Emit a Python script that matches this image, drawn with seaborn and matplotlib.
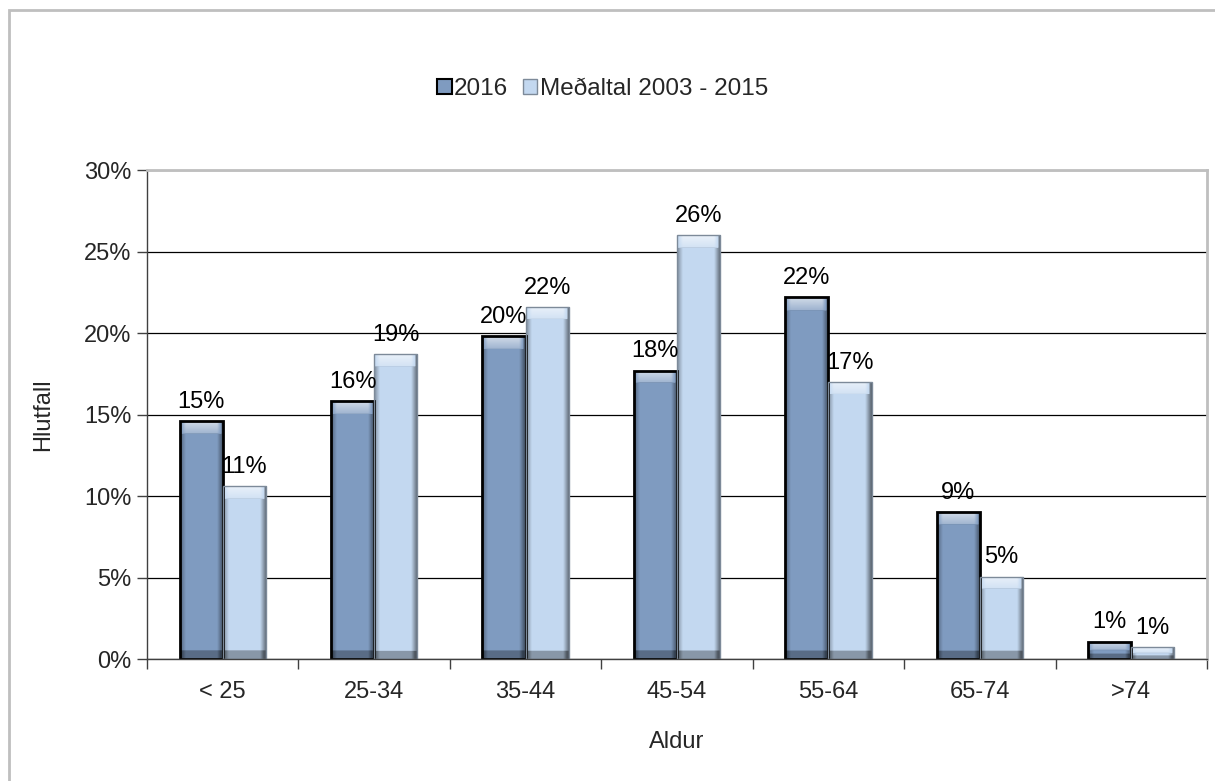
import numpy as np
import pandas as pd
import seaborn as sns
import matplotlib.pyplot as plt
from matplotlib.patches import Rectangle
from matplotlib.ticker import MultipleLocator, PercentFormatter

# Data (percent of total)
age_groups = ["< 25", "25-34", "35-44", "45-54", "55-64", "65-74", ">74"]
share_2016 = [14.6, 15.8, 19.8, 17.7, 22.2, 9.0, 1.06]
share_avg = [10.6, 18.7, 21.6, 26.0, 17.0, 5.05, 0.72]
series_names = ["2016", "Meðaltal 2003 - 2015"]

df = pd.DataFrame({
    "Aldur": age_groups * 2,
    "Hlutfall": share_2016 + share_avg,
    "Series": [series_names[0]] * len(age_groups) + [series_names[1]] * len(age_groups),
})

sns.set_theme(style="white")
plt.rcParams["font.family"] = ["Liberation Sans", "DejaVu Sans"]

dark_blue = "#7F9BC0"
light_blue = "#C3D8F0"
edge_colors = ["black", "#7D8A99"]
edge_widths = [2, 1]
fs = 17

fig = plt.figure(figsize=(12.15, 7.81), dpi=100)
ax = fig.add_axes([0.121, 0.1562, 0.8724, 0.6261])

sns.barplot(
    data=df, x="Aldur", y="Hlutfall", hue="Series",
    order=age_groups, hue_order=series_names,
    palette=[dark_blue, light_blue], width=0.57, saturation=1,
    legend=False, ax=ax,
)

# soft bevel shading over each bar (Excel-style look), then the outline on top
nx = 80
tx = np.linspace(0, 1, nx)[None, :]
side = np.clip((0.13 - tx) / 0.13, 0, 1) * 0.35 + np.clip((tx - 0.85) / 0.15, 0, 1) * 0.55
for ci, cont in enumerate(ax.containers):
    for patch in cont:
        x0, y0 = patch.get_x(), patch.get_y()
        w, h = patch.get_width(), patch.get_height()
        patch.set_edgecolor("none")
        z = patch.get_zorder()
        ny = 300
        ty = np.linspace(0, 1, ny)[:, None]  # 0 = top, 1 = bottom
        cap_frac = min(0.75 / h, 0.5)
        base_frac = min(0.5 / h, 0.3)
        cap = np.clip(1 - ty / cap_frac, 0, 1)
        base = (ty > 1 - base_frac).astype(float)
        dark = np.clip(side + base * 0.3, 0, 0.6)
        light = (cap > 0) * (0.25 + 0.4 * cap) * np.clip(1 - side * 3, 0, 1)
        rgba = np.zeros((ny, nx, 4))
        rgba[..., :3] = np.broadcast_to((light > 0)[..., None], (ny, nx, 1)) * 1.0
        rgba[..., 3] = np.where(light > 0, light, dark)
        im = ax.imshow(rgba, extent=(x0, x0 + w, y0, y0 + h), aspect="auto",
                       interpolation="bilinear", zorder=z + 0.1)
        im.set_clip_path(patch)
        ax.add_patch(Rectangle((x0, y0), w, h, fill=False, edgecolor=edge_colors[ci],
                               linewidth=edge_widths[ci], zorder=z + 0.2))

for cont in ax.containers:
    ax.bar_label(cont, labels=[f"{v:.0f}%" for v in cont.datavalues],
                 padding=6, fontsize=fs, color="black")

ax.set_xlim(-0.5, len(age_groups) - 0.5)
ax.set_ylim(0, 30)
ax.yaxis.set_major_locator(MultipleLocator(5))
ax.yaxis.set_major_formatter(PercentFormatter(decimals=0))
ax.grid(axis="y", color="black", linewidth=0.9)
ax.set_axisbelow(True)

ax.set_xticks(range(len(age_groups)))
ax.set_xticklabels(age_groups)
ax.set_xticks([i - 0.5 for i in range(len(age_groups) + 1)], minor=True)
ax.tick_params(axis="x", which="major", length=0, pad=16, labelsize=fs)
ax.tick_params(axis="x", which="minor", length=7, width=1, color="#404040", direction="out", bottom=True)
ax.tick_params(axis="y", length=7, width=1, color="#404040", direction="out", left=True, pad=4, labelsize=fs)

for s in ["left", "bottom"]:
    ax.spines[s].set_color("#404040")
    ax.spines[s].set_linewidth(1)
for s in ["top", "right"]:
    ax.spines[s].set_color("#BFBFBF")
    ax.spines[s].set_linewidth(2)

ax.set_xlabel("Aldur", fontsize=fs, labelpad=20)
ax.set_ylabel("Hlutfall", fontsize=fs, labelpad=22)

handles = [
    Rectangle((0, 0), 1, 1, facecolor=dark_blue, edgecolor="black", linewidth=1.5),
    Rectangle((0, 0), 1, 1, facecolor=light_blue, edgecolor="#7D8A99", linewidth=1),
]
fig.legend(handles, series_names, loc="center", bbox_to_anchor=(0.496, 0.886),
           ncol=2, frameon=False, fontsize=17.5, handlelength=0.6, handleheight=0.6,
           handletextpad=0.1, columnspacing=0.6)

# outer chart border
fig.patches.append(Rectangle((9 / 1215, -0.05), 1.2, 1 - 10 / 781 + 0.05,
                             transform=fig.transFigure, fill=False,
                             edgecolor="#BFBFBF", linewidth=2))

fig.savefig("out.png", dpi=100)
